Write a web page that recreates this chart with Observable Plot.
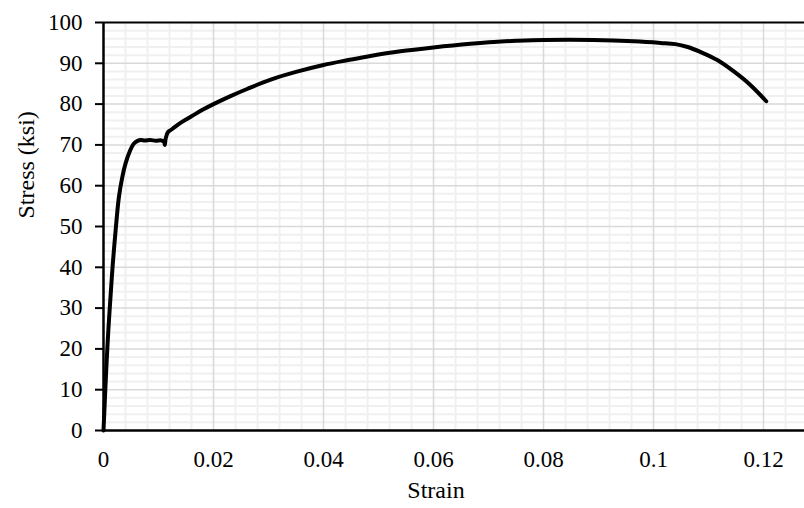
<!DOCTYPE html>
<html>
<head>
<meta charset="utf-8">
<script src="https://cdn.jsdelivr.net/npm/d3@7"></script>
<script src="https://cdn.jsdelivr.net/npm/@observablehq/plot@0.6"></script>
<style>
  html, body { margin: 0; padding: 0; background: #fff; }
  #chart svg { display: block; font-family: "Liberation Serif", serif; }
</style>
</head>
<body>
<div id="chart"></div>
<script>
// Strain (in/in)
const strain = [0, 0.0003, 0.00055, 0.0009, 0.00127, 0.0017, 0.0022, 0.0028, 0.0034, 0.004,
  0.0048, 0.0055, 0.0062, 0.0068, 0.0075, 0.0085, 0.0095, 0.0105, 0.0110, 0.01115,
  0.0113, 0.0117, 0.0125, 0.014, 0.016, 0.018, 0.02, 0.023, 0.0261, 0.0304,
  0.035, 0.04, 0.0445, 0.0485, 0.054, 0.06, 0.0667, 0.071, 0.075, 0.08,
  0.0891, 0.0964, 0.1013, 0.104, 0.1062, 0.1085, 0.1116, 0.1146, 0.1176, 0.1205];
// Stress (ksi)
const stress = [0, 9, 16.3, 25, 32.7, 41, 49, 57.2, 62, 65.4,
  68.5, 70.3, 71.0, 71.2, 71.1, 71.2, 71.0, 71.1, 70.8, 70.0,
  71.5, 73.1, 73.9, 75.4, 77.0, 78.6, 80.0, 81.9, 83.7, 86.0,
  87.9, 89.6, 90.8, 91.8, 92.95, 93.9, 94.8, 95.25, 95.5, 95.7,
  95.7, 95.4, 95.0, 94.7, 94.0, 92.8, 90.8, 88.0, 84.7, 80.7];

const xTicks = [0, 0.02, 0.04, 0.06, 0.08, 0.1, 0.12];
const xTickLabels = ["0", "0.02", "0.04", "0.06", "0.08", "0.1", "0.12"];
const yTicks = [0, 10, 20, 30, 40, 50, 60, 70, 80, 90, 100];
const xLabel = "Strain";
const yLabel = "Stress (ksi)";

const xMinor = d3.range(0, 0.1275, 0.004).filter(v => Math.abs(v / 0.02 - Math.round(v / 0.02)) > 1e-6);
const yMinor = d3.range(0, 100, 2).filter(v => v % 10 !== 0);

const data = strain.map((s, i) => ({strain: s, stress: stress[i]}));

const W = 804, H = 508, ML = 103, MR = 0, MT = 22, MB = 78;
const xMax = 0.12745;
const FONT = "Liberation Serif";
const FS = 23;
const FT = 24;

const chart = Plot.plot({
  width: W,
  height: H,
  marginLeft: ML,
  marginRight: MR,
  marginTop: MT,
  marginBottom: MB,
  style: {fontFamily: FONT, fontSize: FS + "px", color: "#000", background: "#fff"},
  x: {domain: [0, xMax]},
  y: {domain: [0, 100]},
  marks: [
    Plot.ruleX(xMinor, {stroke: "#f0f0f0", strokeWidth: 2}),
    Plot.ruleY(yMinor, {stroke: "#f0f0f0", strokeWidth: 2}),
    Plot.ruleX(xTicks.slice(1), {stroke: "#d9d9d9", strokeWidth: 1.5}),
    Plot.ruleY(yTicks.slice(1, -1), {stroke: "#d9d9d9", strokeWidth: 1.5}),
    Plot.ruleY([100], {stroke: "#000", strokeWidth: 2}),
    Plot.axisX({ticks: xTicks, tickFormat: (d, i) => xTickLabels[i], tickSize: 0, tickPadding: 20, label: null, fill: "#000", fontFamily: FONT, fontSize: FS}),
    Plot.axisY({ticks: yTicks, tickSize: 8, tickPadding: 13, label: null, stroke: "#000", strokeWidth: 2, fill: "#000", fontFamily: FONT, fontSize: FS}),
    Plot.line(data, {x: "strain", y: "stress", stroke: "#000", strokeWidth: 4, curve: "catmull-rom", strokeLinejoin: "round", strokeLinecap: "round"}),
    Plot.ruleY([0], {stroke: "#000", strokeWidth: 2.5}),
    Plot.ruleX([0], {stroke: "#000", strokeWidth: 2.5}),
    Plot.text([xLabel], {text: d => d, frameAnchor: "bottom", dy: 67, dx: -18, fill: "#000", fontFamily: FONT, fontSize: FT}),
    Plot.text([yLabel], {text: d => d, frameAnchor: "left", dx: -77, dy: -8, rotate: -90, fill: "#000", fontFamily: FONT, fontSize: FT})
  ]
});
document.getElementById("chart").appendChild(chart);
</script>
</body>
</html>
